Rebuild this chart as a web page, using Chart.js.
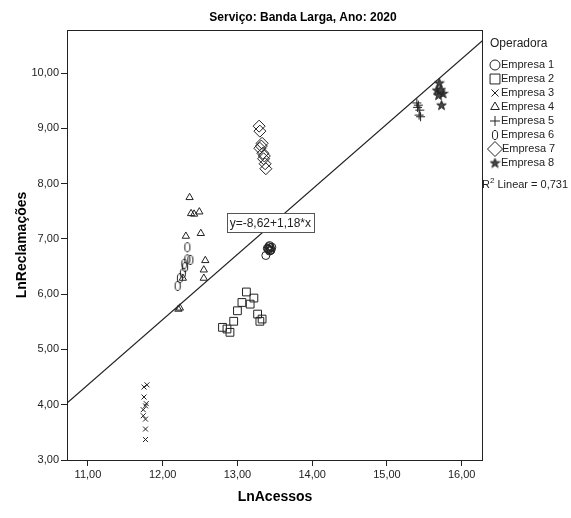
<!DOCTYPE html>
<html>
<head>
<meta charset="utf-8">
<script src="https://cdn.jsdelivr.net/npm/chart.js@4"></script>
<style>
  html, body { margin: 0; padding: 0; background: #fff; }
  #wrap { width: 571px; height: 518px; }
</style>
</head>
<body>
<div id="wrap"><canvas id="c" width="571" height="518"></canvas></div>
<script>
// LnAcessos (x) and LnReclamações (y) per operator
const empresa1X = [13.42, 13.44, 13.41, 13.45, 13.43, 13.40, 13.46, 13.38, 13.43, 13.42, 13.44];
const empresa1Y = [6.86, 6.84, 6.82, 6.80, 6.78, 6.83, 6.85, 6.70, 6.88, 6.81, 6.79];
const empresa2X = [13.12, 13.22, 13.06, 13.17, 13.00, 13.27, 12.95, 13.33, 13.30, 12.80, 12.86, 12.90];
const empresa2Y = [6.04, 5.93, 5.85, 5.82, 5.70, 5.64, 5.51, 5.55, 5.51, 5.40, 5.37, 5.31];
const empresa3X = [11.75, 11.79, 11.75, 11.77, 11.74, 11.74, 11.77, 11.77, 11.77, 11.78];
const empresa3Y = [4.32, 4.36, 4.14, 3.98, 3.91, 3.80, 3.74, 3.56, 3.37, 4.02];
const empresa4X = [12.36, 12.38, 12.42, 12.49, 12.31, 12.51, 12.57, 12.55, 12.55, 12.27, 12.23, 12.21];
const empresa4Y = [7.75, 7.46, 7.45, 7.49, 7.05, 7.10, 6.61, 6.44, 6.29, 6.29, 5.75, 5.73];
const empresa5X = [15.40, 15.42, 15.44, 15.43, 15.45, 15.41];
const empresa5Y = [9.46, 9.42, 9.33, 9.24, 9.21, 9.38];
const empresa6X = [12.33, 12.33, 12.37, 12.30, 12.27, 12.23, 12.20, 12.29];
const empresa6Y = [6.85, 6.63, 6.62, 6.49, 6.38, 6.29, 6.15, 6.55];
const empresa7X = [13.29, 13.30, 13.33, 13.30, 13.34, 13.35, 13.37, 13.38, 13.32, 13.36];
const empresa7Y = [9.04, 8.95, 8.73, 8.64, 8.55, 8.45, 8.36, 8.27, 8.68, 8.50];
const empresa8X = [15.70, 15.67, 15.71, 15.75, 15.69, 15.73, 15.72];
const empresa8Y = [9.82, 9.69, 9.66, 9.63, 9.60, 9.42, 9.70];

const seriesNames = ['Empresa 1', 'Empresa 2', 'Empresa 3', 'Empresa 4', 'Empresa 5', 'Empresa 6', 'Empresa 7', 'Empresa 8'];

// Linear fit: y = -8,62 + 1,18*x  (R² = 0,731)
const fitIntercept = -8.62;
const fitSlope = 1.18;
const fitR2Label = '0,731';
const fitEquationLabel = 'y=-8,62+1,18*x';

const xTickValues = [11, 12, 13, 14, 15, 16];
const xTickLabels = ['11,00', '12,00', '13,00', '14,00', '15,00', '16,00'];
const yTickValues = [3, 4, 5, 6, 7, 8, 9, 10];
const yTickLabels = ['3,00', '4,00', '5,00', '6,00', '7,00', '8,00', '9,00', '10,00'];

const X_MIN = 10.72, X_MAX = 16.285, Y_MIN = 3, Y_MAX = 10.78;
const FONT = '"Liberation Sans", Arial, sans-serif';
const INK = '#222';

function pairs(xs, ys) { return xs.map((x, i) => ({ x: x, y: ys[i] })); }

// vertical ellipse marker
function ellipseMarker() {
  const c = document.createElement('canvas');
  c.width = 8; c.height = 12;
  const g = c.getContext('2d');
  g.strokeStyle = INK; g.lineWidth = 1;
  g.beginPath(); g.ellipse(4, 6, 2.6, 4.6, 0, 0, Math.PI * 2); g.stroke();
  return c;
}
// five-point star marker, solid
function starMarker() {
  const c = document.createElement('canvas');
  c.width = 11; c.height = 11;
  const g = c.getContext('2d');
  g.strokeStyle = INK; g.fillStyle = '#444'; g.lineWidth = 1;
  g.beginPath();
  for (let i = 0; i < 10; i++) {
    const r = i % 2 === 0 ? 5 : 2;
    const a = -Math.PI / 2 + i * Math.PI / 5;
    const px = 5.5 + r * Math.cos(a), py = 5.8 + r * Math.sin(a);
    if (i === 0) g.moveTo(px, py); else g.lineTo(px, py);
  }
  g.closePath(); g.fill(); g.stroke();
  return c;
}
const ellipseImg = ellipseMarker();
const starImg = starMarker();

const markerStyles = [
  { pointStyle: 'circle', radius: 4 },
  { pointStyle: 'rect', radius: 5.5 },
  { pointStyle: 'crossRot', radius: 3.5 },
  { pointStyle: 'triangle', radius: 4.2 },
  { pointStyle: 'cross', radius: 4.5 },
  { pointStyle: ellipseImg, radius: 5 },
  { pointStyle: 'rectRot', radius: 6 },
  { pointStyle: starImg, radius: 5 }
];

const seriesData = [
  pairs(empresa1X, empresa1Y), pairs(empresa2X, empresa2Y), pairs(empresa3X, empresa3Y),
  pairs(empresa4X, empresa4Y), pairs(empresa5X, empresa5Y), pairs(empresa6X, empresa6Y),
  pairs(empresa7X, empresa7Y), pairs(empresa8X, empresa8Y)
];

const datasets = seriesData.map((d, i) => ({
  type: 'scatter',
  label: seriesNames[i],
  data: d,
  pointStyle: markerStyles[i].pointStyle,
  pointRadius: markerStyles[i].radius,
  pointBackgroundColor: 'rgba(255,255,255,0)',
  pointBorderColor: INK,
  pointBorderWidth: 1,
  order: 1
}));

// fit line across the full x range
datasets.push({
  type: 'line',
  label: 'Linear',
  data: [
    { x: X_MIN, y: fitIntercept + fitSlope * X_MIN },
    { x: X_MAX, y: fitIntercept + fitSlope * X_MAX }
  ],
  borderColor: INK,
  borderWidth: 1.2,
  pointRadius: 0,
  fill: false,
  order: 2
});

const decorations = {
  id: 'decorations',
  afterDraw(chart) {
    const ctx = chart.ctx;
    const a = chart.chartArea;
    const xs = chart.scales.x, ys = chart.scales.y;
    ctx.save();
    // frame
    ctx.strokeStyle = INK; ctx.lineWidth = 1;
    ctx.strokeRect(Math.round(a.left) + 0.5, Math.round(a.top) + 0.5,
      Math.round(a.right - a.left) - 1, Math.round(a.bottom - a.top));

    // title
    ctx.fillStyle = '#000';
    ctx.font = 'bold 12px ' + FONT;
    ctx.textAlign = 'center'; ctx.textBaseline = 'middle';
    ctx.fillText('Serviço: Banda Larga, Ano: 2020', 303, 18);

    // axis titles
    ctx.font = 'bold 14px ' + FONT;
    ctx.fillText('LnAcessos', (a.left + a.right) / 2, 497);
    ctx.save();
    ctx.translate(22, (a.top + a.bottom) / 2);
    ctx.rotate(-Math.PI / 2);
    ctx.fillText('LnReclamações', 0, 0);
    ctx.restore();

    // equation box on the fit line
    const ex = 13.44;
    const px = xs.getPixelForValue(ex);
    const py = ys.getPixelForValue(fitIntercept + fitSlope * ex) - 3;
    ctx.font = '12px ' + FONT;
    const tw = ctx.measureText(fitEquationLabel).width;
    const bw = tw + 6, bh = 19;
    ctx.fillStyle = '#fff';
    ctx.fillRect(Math.round(px - bw / 2), Math.round(py - bh / 2), Math.round(bw), bh);
    ctx.strokeStyle = '#555';
    ctx.strokeRect(Math.round(px - bw / 2) + 0.5, Math.round(py - bh / 2) + 0.5, Math.round(bw), bh);
    ctx.fillStyle = INK;
    ctx.textAlign = 'center';
    ctx.fillText(fitEquationLabel, px, py + 1);

    // legend
    ctx.textAlign = 'left'; ctx.textBaseline = 'middle';
    ctx.font = '12px ' + FONT;
    ctx.fillStyle = INK;
    ctx.fillText('Operadora', 490, 44);
    ctx.font = '11px ' + FONT;
    seriesNames.forEach((name, i) => {
      const ly = 65 + i * 14;
      const st = markerStyles[i];
      const opts = {
        pointStyle: st.pointStyle,
        radius: i === 6 ? 7.5 : (i === 1 ? 7 : 5),
        borderWidth: 1,
        rotation: 0
      };
      ctx.strokeStyle = INK; ctx.fillStyle = 'rgba(0,0,0,0)'; ctx.lineWidth = 1;
      if (typeof st.pointStyle === 'string') {
        Chart.helpers.drawPoint(ctx, opts, 495, ly);
      } else {
        ctx.drawImage(st.pointStyle, 495 - st.pointStyle.width / 2, ly - st.pointStyle.height / 2);
      }
      ctx.fillStyle = INK;
      ctx.fillText(name, i === 6 ? 502 : 501, ly);
    });

    // R² label
    ctx.font = '11px ' + FONT;
    ctx.fillText('R', 482, 185);
    const rw = ctx.measureText('R').width;
    ctx.font = '8px ' + FONT;
    ctx.fillText('2', 482 + rw, 181);
    const sw = ctx.measureText('2').width;
    ctx.font = '11px ' + FONT;
    ctx.fillText(' Linear = ' + fitR2Label, 482 + rw + sw, 185);
    ctx.restore();
  }
};

new Chart(document.getElementById('c'), {
  data: { datasets: datasets },
  options: {
    responsive: false,
    animation: false,
    layout: { padding: { top: 30, right: 88, left: 0, bottom: 0 } },
    plugins: { legend: { display: false }, tooltip: { enabled: false } },
    scales: {
      x: {
        type: 'linear',
        min: X_MIN, max: X_MAX,
        afterFit(s) { s.height = 58; },
        afterBuildTicks(s) { s.ticks = xTickValues.map(v => ({ value: v })); },
        grid: { drawOnChartArea: false, drawTicks: true, tickLength: 6, color: INK },
        border: { display: false },
        ticks: {
          color: INK, font: { family: FONT, size: 11 }, padding: 2, maxRotation: 0,
          callback(v) { const k = xTickValues.indexOf(v); return k >= 0 ? xTickLabels[k] : ''; }
        }
      },
      y: {
        type: 'linear',
        min: Y_MIN, max: Y_MAX,
        afterFit(s) { s.width = 67; },
        afterBuildTicks(s) { s.ticks = yTickValues.map(v => ({ value: v })); },
        grid: { drawOnChartArea: false, drawTicks: true, tickLength: 6, color: INK },
        border: { display: false },
        ticks: {
          color: INK, font: { family: FONT, size: 11 }, padding: 2,
          callback(v) { const k = yTickValues.indexOf(v); return k >= 0 ? yTickLabels[k] : ''; }
        }
      }
    }
  },
  plugins: [decorations]
});
</script>
</body>
</html>
